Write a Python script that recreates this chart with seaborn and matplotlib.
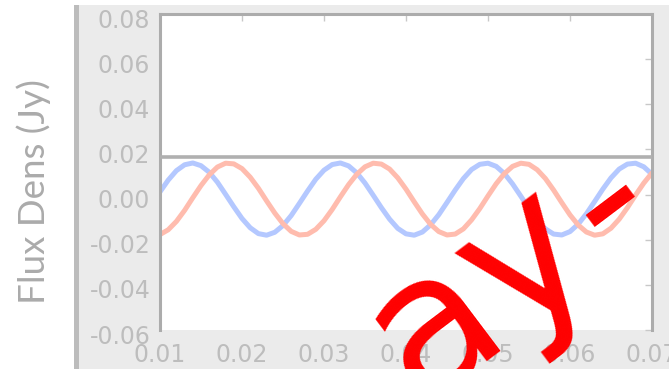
import numpy as np
import pandas as pd
import matplotlib
matplotlib.use("Agg")
import matplotlib.pyplot as plt
import matplotlib.transforms as mtransforms
from matplotlib.patches import Rectangle
import seaborn as sns

# Frequency samples (x axis)
freq = [0.010, 0.011, 0.012, 0.013, 0.014, 0.015, 0.016, 0.017, 0.018, 0.019,
        0.020, 0.021, 0.022, 0.023, 0.024, 0.025, 0.026, 0.027, 0.028, 0.029,
        0.030, 0.031, 0.032, 0.033, 0.034, 0.035, 0.036, 0.037, 0.038, 0.039,
        0.040, 0.041, 0.042, 0.043, 0.044, 0.045, 0.046, 0.047, 0.048, 0.049,
        0.050, 0.051, 0.052, 0.053, 0.054, 0.055, 0.056, 0.057, 0.058, 0.059,
        0.060, 0.061, 0.062, 0.063, 0.064, 0.065, 0.066, 0.067, 0.068, 0.069,
        0.070]

# Flux density, first component (blue)
flux_blue = [0.0012, 0.0064, 0.0106, 0.0132, 0.0140, 0.0128, 0.0099, 0.0055, 0.0001, -0.0054,
             -0.0106, -0.0147, -0.0173, -0.0180, -0.0167, -0.0137, -0.0093, -0.0039, 0.0016, 0.0068,
             0.0108, 0.0133, 0.0140, 0.0127, 0.0096, 0.0051, -0.0003, -0.0058, -0.0109, -0.0150,
             -0.0174, -0.0180, -0.0166, -0.0134, -0.0089, -0.0035, 0.0020, 0.0071, 0.0111, 0.0134,
             0.0139, 0.0125, 0.0093, 0.0047, -0.0007, -0.0062, -0.0113, -0.0152, -0.0175, -0.0179,
             -0.0164, -0.0131, -0.0085, -0.0031, 0.0024, 0.0074, 0.0113, 0.0135, 0.0139, 0.0123,
             0.0090]

# Flux density, second component (red)
flux_red = [-0.0177, -0.0156, -0.0119, -0.0070, -0.0014, 0.0040, 0.0087, 0.0122, 0.0139, 0.0136,
            0.0115, 0.0077, 0.0028, -0.0028, -0.0082, -0.0129, -0.0163, -0.0179, -0.0176, -0.0154,
            -0.0116, -0.0066, -0.0010, 0.0044, 0.0090, 0.0123, 0.0139, 0.0135, 0.0113, 0.0074,
            0.0024, -0.0032, -0.0086, -0.0132, -0.0164, -0.0179, -0.0175, -0.0152, -0.0112, -0.0062,
            -0.0006, 0.0048, 0.0093, 0.0125, 0.0139, 0.0134, 0.0110, 0.0071, 0.0020, -0.0036,
            -0.0090, -0.0135, -0.0166, -0.0180, -0.0174, -0.0149, -0.0109, -0.0058, -0.0002, 0.0051,
            0.0096]

level = 0.0165
x_ticks = [0.01, 0.02, 0.03, 0.04, 0.05, 0.06, 0.07]
y_ticks = [-0.06, -0.04, -0.02, 0.00, 0.02, 0.04, 0.06, 0.08]
y_label = "Flux Dens (Jy)"
stamp_word = "ay"
stamp_dash = "-"

sns.set_style("white")
plt.rcParams["axes.unicode_minus"] = False

W, H = 669, 369
fig = plt.figure(figsize=(W / 100, H / 100), dpi=100)
fig.patch.set_facecolor("white")

# grey backdrop panel and its left edge bar
fig.patches.append(Rectangle((79 / W, 0), 1, 1 - 5 / H, transform=fig.transFigure,
                             facecolor="#ebebeb", edgecolor="none", zorder=-10))
fig.patches.append(Rectangle((74 / W, 0), 5 / W, 1 - 5 / H, transform=fig.transFigure,
                             facecolor="#bcbcbc", edgecolor="none", zorder=-10))

ax = fig.add_axes([160 / W, 1 - 330 / H, 492 / W, 316 / H])
ax.set_zorder(1)
ax.set_facecolor("white")

n = len(freq)
df = pd.DataFrame({
    "freq": freq * 2,
    "flux": flux_blue + flux_red,
    "series": ["blue"] * n + ["red"] * n,
})
sns.lineplot(data=df, x="freq", y="flux", hue="series",
             palette={"blue": "#b4c8ff", "red": "#ffbcae"},
             linewidth=3.6, legend=False, estimator=None, sort=False, ax=ax)

ax.axhline(level, color="#b0b0b0", lw=2.6, zorder=3)

ax.set_xlim(0.01, 0.07)
ax.set_ylim(-0.06, 0.08)
ax.set_xticks(x_ticks)
ax.set_yticks(y_ticks)
ax.set_xticklabels([f"{v:.2f}" for v in x_ticks])
ax.set_yticklabels([f"{v:.2f}" for v in y_ticks])
ax.set_xlabel("")
ax.set_ylabel("")

ax.tick_params(direction="in", length=5, width=1, color="#c8c8c8",
               top=True, right=True, labelsize=17, labelcolor="#bdbdbd")
ax.tick_params(axis="y", pad=7)
ax.tick_params(axis="x", pad=9)
for lab in ax.get_yticklabels():
    lab.set_transform(lab.get_transform() + mtransforms.ScaledTranslation(0, -0.04, fig.dpi_scale_trans))

for side in ("left", "top", "right"):
    ax.spines[side].set_visible(True)
    ax.spines[side].set_color("#acacac")
    ax.spines[side].set_linewidth(2.2)
ax.spines["bottom"].set_visible(False)

fig.text(34 / W, 1 - 192 / H, y_label, rotation=90, ha="center", va="center",
         fontsize=26.5, color="#ababab", family="Lato")

# tilted red stamp running off the lower edge
stamp_kw = dict(rotation=37, rotation_mode="anchor", ha="left", va="baseline",
                fontsize=138, color="#ff0000", family="DejaVu Sans", zorder=5)
fig.text(418 / W, 1 - 404 / H, stamp_word, **stamp_kw)
fig.text(613 / W, 1 - 263 / H, stamp_dash, **stamp_kw)

fig.savefig("out.png", dpi=100)
